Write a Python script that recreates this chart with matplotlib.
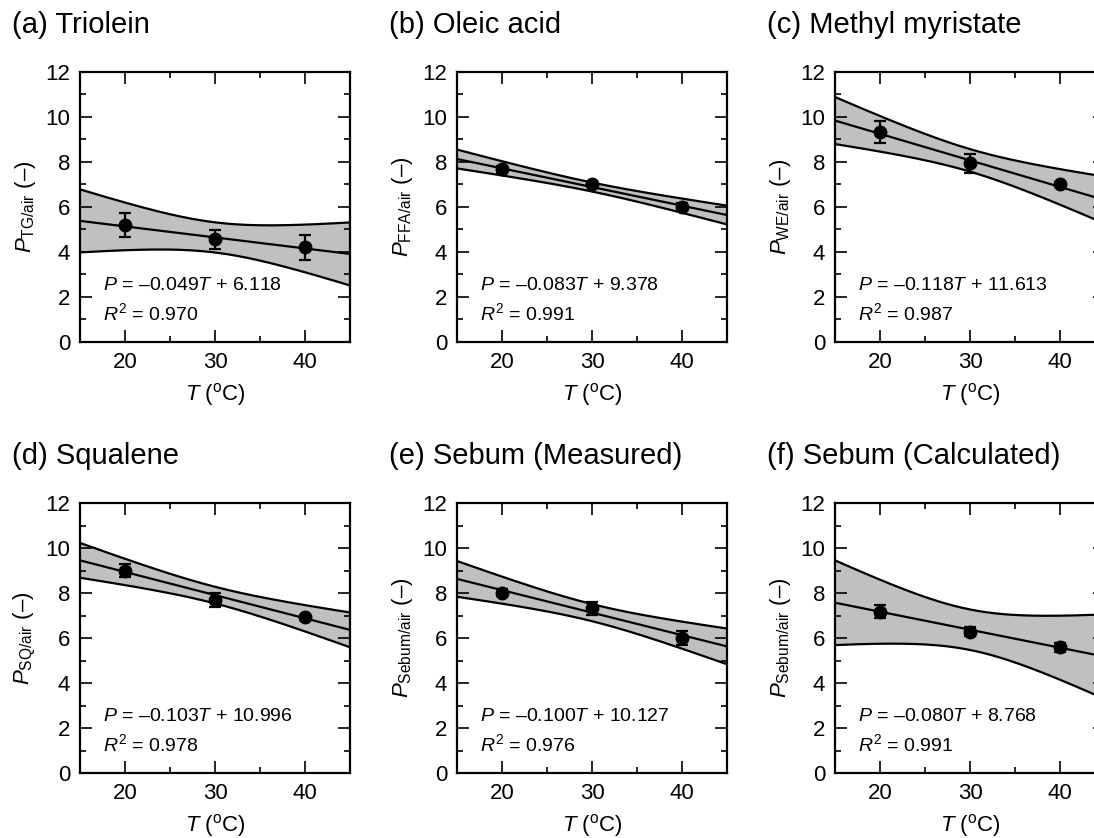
import numpy as np
import matplotlib
matplotlib.use("Agg")
import matplotlib.pyplot as plt
from matplotlib.ticker import MultipleLocator

plt.rcParams['font.family'] = ['Liberation Sans', 'DejaVu Sans']
plt.rcParams['mathtext.fontset'] = 'custom'
plt.rcParams['mathtext.rm'] = 'Liberation Sans'
plt.rcParams['mathtext.it'] = 'Liberation Sans:italic'
plt.rcParams['mathtext.bf'] = 'Liberation Sans:bold'

# ---- data ----
temps = [20, 30, 40]
titles = ["(a) Triolein", "(b) Oleic acid", "(c) Methyl myristate",
          "(d) Squalene", "(e) Sebum (Measured)", "(f) Sebum (Calculated)"]
subscripts = ["TG/air", "FFA/air", "WE/air", "SQ/air", "Sebum/air", "Sebum/air"]
mean_values = [[5.20, 4.57, 4.21],
               [7.67, 7.00, 6.01],
               [9.34, 7.94, 7.00],
               [9.00, 7.69, 6.92],
               [8.02, 7.32, 5.99],
               [7.17, 6.27, 5.58]]
errors = [[0.55, 0.42, 0.55],
          [0.15, 0.10, 0.15],
          [0.48, 0.43, 0.10],
          [0.30, 0.33, 0.10],
          [0.15, 0.30, 0.30],
          [0.30, 0.20, 0.20]]
slopes = [-0.049, -0.083, -0.118, -0.103, -0.100, -0.080]
intercepts = [6.118, 9.378, 11.613, 10.996, 10.127, 8.768]
slope_labels = ["0.049", "0.083", "0.118", "0.103", "0.100", "0.080"]
intercept_labels = ["6.118", "9.378", "11.613", "10.996", "10.127", "8.768"]
r2_labels = ["0.970", "0.991", "0.987", "0.978", "0.976", "0.991"]
# confidence-band half width at the mean temperature
band_halfwidth_at_mean = [0.67, 0.20, 0.50, 0.37, 0.38, 0.90]

W, H = 1094, 838
fig = plt.figure(figsize=(W / 100, H / 100), dpi=100)

col_left = [80, 457, 835]
row_top = [72, 503]
aw, ah = 270, 270

xs = np.linspace(15, 45, 200)
t_arr = np.array(temps, dtype=float)
xbar = t_arr.mean()
sxx = ((t_arr - xbar) ** 2).sum()
n = len(t_arr)

for i in range(6):
    r, c = divmod(i, 3)
    left = col_left[c]
    top = row_top[r]
    ax = fig.add_axes([left / W, 1 - (top + ah) / H, aw / W, ah / H])
    fit = slopes[i] * xs + intercepts[i]
    hw = band_halfwidth_at_mean[i] * np.sqrt(1 + n * (xs - xbar) ** 2 / sxx)
    ax.fill_between(xs, fit - hw, fit + hw, color='#c0c0c0', lw=0, zorder=1)
    ax.plot(xs, fit + hw, color='black', lw=1.6, zorder=2)
    ax.plot(xs, fit - hw, color='black', lw=1.6, zorder=2)
    ax.plot(xs, fit, color='black', lw=1.6, zorder=2)
    ax.errorbar(temps, mean_values[i], yerr=errors[i], fmt='o', color='black',
                ms=9, ecolor='black', elinewidth=1.6, capsize=4.5, capthick=1.6,
                zorder=3)
    ax.set_xlim(15, 45)
    ax.set_ylim(0, 12)
    ax.xaxis.set_major_locator(MultipleLocator(10))
    ax.xaxis.set_minor_locator(MultipleLocator(5))
    ax.yaxis.set_major_locator(MultipleLocator(2))
    ax.yaxis.set_minor_locator(MultipleLocator(1))
    ax.tick_params(which='both', direction='in', top=True, right=True,
                   width=1.2, labelsize=16, pad=7)
    ax.tick_params(which='major', length=8.5)
    ax.tick_params(which='minor', length=4.3)
    for sp in ax.spines.values():
        sp.set_linewidth(1.6)
    ax.set_xlabel(r'$T$ ($^{\mathrm{o}}$C)', fontsize=16, labelpad=6)
    ax.set_ylabel(r'$P_{\mathrm{%s}}$ (–)' % subscripts[i], fontsize=16)
    ax.yaxis.set_label_coords(-0.155, 0.5)
    ax.text(17.6, 2.5, r'$P$ = –%s$T$ + %s' % (slope_labels[i], intercept_labels[i]),
            fontsize=14, va='center', ha='left')
    ax.text(17.6, 1.3, r'$R^2$ = %s' % r2_labels[i],
            fontsize=14, va='center', ha='left')
    fig.text((left - 68) / W, 1 - (top - 47) / H, titles[i], fontsize=21,
             ha='left', va='center')

fig.savefig('out.png', dpi=100)
